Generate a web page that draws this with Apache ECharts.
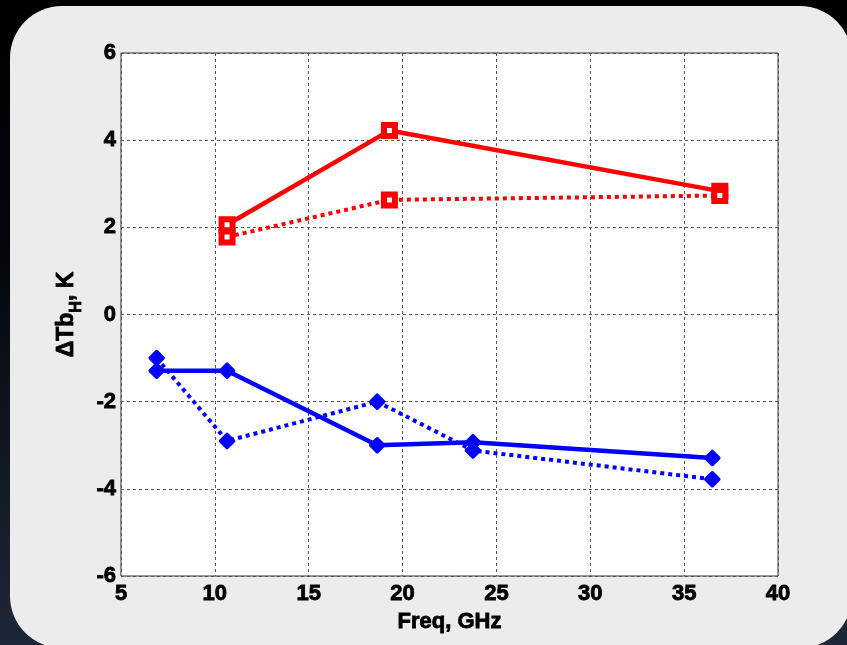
<!DOCTYPE html>
<html>
<head>
<meta charset="utf-8">
<script src="https://cdn.jsdelivr.net/npm/echarts@6/dist/echarts.min.js"></script>
<style>
  html, body { margin: 0; padding: 0; width: 847px; height: 645px; overflow: hidden;
    background: linear-gradient(180deg, #000000 0%, #05070c 40%, #1e273a 100%); }
  #chart { width: 847px; height: 645px; }
</style>
</head>
<body>
<div id="chart"></div>
<script>
// Frequencies (GHz) for each channel set
const freqRed = [10.65, 19.3, 36.9];
const freqBlue = [6.9, 10.65, 18.65, 23.75, 36.5];

// Brightness-temperature differences ΔTb_H (K)
const redSolid = [2.06, 4.22, 2.83];
const redDotted = [1.78, 2.63, 2.73];
const blueSolid = [-1.29, -1.29, -3.0, -2.93, -3.29];
const blueDotted = [-1.0, -2.9, -2.0, -3.12, -3.78];

// Axis ticks
const xTicks = [5, 10, 15, 20, 25, 30, 35, 40];
const yTicks = [-6, -4, -2, 0, 2, 4, 6];

const pair = (xs, ys) => xs.map((x, i) => [x, ys[i]]);

const FONT = "'Liberation Sans', Arial, sans-serif";
const RED = '#ff0000';
const BLUE = '#0000ff';
const heavy = { fontFamily: FONT, fontWeight: 'bold', color: '#000', textBorderColor: '#000', textBorderWidth: 0.8 };

const chart = echarts.init(document.getElementById('chart'), null, { renderer: 'canvas' });

const redMarker = {
  symbol: 'rect', symbolSize: 11,
  itemStyle: { color: '#ffffff', borderColor: RED, borderWidth: 6 }
};
const blueMarker = {
  symbol: 'diamond', symbolSize: 13,
  itemStyle: { color: BLUE, borderColor: BLUE, borderWidth: 3.5, borderJoin: 'round' }
};

chart.setOption({
  backgroundColor: 'transparent',
  animation: false,
  graphic: [{
    type: 'rect', z: -10, silent: true,
    shape: { x: 10, y: 6, width: 842, height: 642, r: 52 },
    style: { fill: '#ececec' }
  }],
  grid: {
    left: 121, top: 53, right: 69, bottom: 69,
    show: true, backgroundColor: '#ffffff', borderColor: '#333333', borderWidth: 1
  },
  xAxis: {
    type: 'value', min: xTicks[0], max: xTicks[xTicks.length - 1], interval: 5,
    name: 'Freq, GHz', nameLocation: 'middle', nameGap: 30,
    nameTextStyle: Object.assign({ fontSize: 22 }, heavy),
    axisLine: { show: false },
    axisTick: { show: false },
    axisLabel: Object.assign({ fontSize: 22, margin: 7 }, heavy),
    splitLine: { show: true, lineStyle: { color: '#555', width: 1, type: [3, 3] } }
  },
  yAxis: {
    type: 'value', min: yTicks[0], max: yTicks[yTicks.length - 1], interval: 2,
    name: '{m|ΔTb}{s|H}{m|, K}', nameLocation: 'middle', nameGap: 31,
    nameTextStyle: {
      rich: {
        m: Object.assign({ fontSize: 23, lineHeight: 36, verticalAlign: 'middle' }, heavy),
        s: Object.assign({ fontSize: 16, lineHeight: 36, verticalAlign: 'bottom' }, heavy)
      }
    },
    axisLine: { show: false },
    axisTick: { show: false },
    axisLabel: Object.assign({ fontSize: 22, margin: 5 }, heavy),
    splitLine: { show: true, lineStyle: { color: '#555', width: 1, type: [3, 3] } }
  },
  series: [
    Object.assign({ type: 'line', name: 'red solid', data: pair(freqRed, redSolid),
      lineStyle: { color: RED, width: 4.5 }, z: 3 }, redMarker),
    Object.assign({ type: 'line', name: 'red dotted', data: pair(freqRed, redDotted),
      lineStyle: { color: RED, width: 4, type: [4, 4] }, z: 3 }, redMarker),
    Object.assign({ type: 'line', name: 'blue solid', data: pair(freqBlue, blueSolid),
      lineStyle: { color: BLUE, width: 4.5 }, z: 3 }, blueMarker),
    Object.assign({ type: 'line', name: 'blue dotted', data: pair(freqBlue, blueDotted),
      lineStyle: { color: BLUE, width: 4, type: [4, 4] }, z: 3 }, blueMarker)
  ]
});
</script>
</body>
</html>
